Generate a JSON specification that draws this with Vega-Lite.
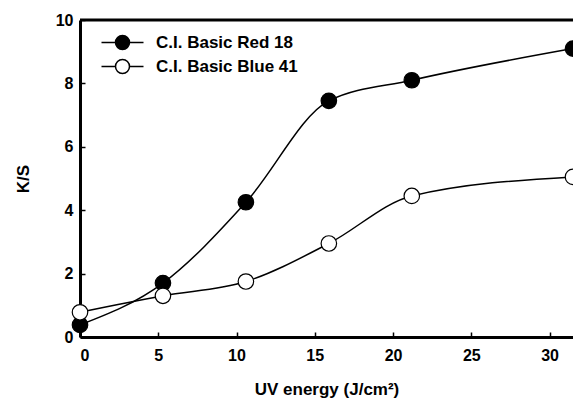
{
  "$schema": "https://vega.github.io/schema/vega-lite/v6.json",
  "width": 493,
  "height": 317,
  "autosize": "none",
  "padding": {"left": 80, "top": 20, "right": 0, "bottom": 63},
  "background": "white",
  "config": {
    "view": {"stroke": null},
    "font": "Liberation Sans",
    "axis": {
      "domainColor": "black",
      "domainWidth": 3,
      "tickColor": "black",
      "tickWidth": 1.5,
      "tickSize": -5,
      "labelFont": "Liberation Sans",
      "labelFontWeight": "bold",
      "labelFontSize": 16,
      "labelColor": "black",
      "titleFont": "Liberation Sans",
      "titleFontWeight": "bold",
      "titleFontSize": 17,
      "titleColor": "black",
      "grid": false
    },
    "legend": {
      "labelFont": "Liberation Sans",
      "labelFontWeight": "bold",
      "labelFontSize": 17,
      "labelColor": "black",
      "padding": 0
    }
  },
  "data": {
    "values": [
      {"energy": 0, "ks": 0.38, "dye": "C.I. Basic Red 18"},
      {"energy": 5.3, "ks": 1.7, "dye": "C.I. Basic Red 18"},
      {"energy": 10.6, "ks": 4.25, "dye": "C.I. Basic Red 18"},
      {"energy": 15.9, "ks": 7.45, "dye": "C.I. Basic Red 18"},
      {"energy": 21.2, "ks": 8.1, "dye": "C.I. Basic Red 18"},
      {"energy": 31.5, "ks": 9.1, "dye": "C.I. Basic Red 18"},
      {"energy": 0, "ks": 0.78, "dye": "C.I. Basic Blue 41"},
      {"energy": 5.3, "ks": 1.3, "dye": "C.I. Basic Blue 41"},
      {"energy": 10.6, "ks": 1.75, "dye": "C.I. Basic Blue 41"},
      {"energy": 15.9, "ks": 2.95, "dye": "C.I. Basic Blue 41"},
      {"energy": 21.2, "ks": 4.45, "dye": "C.I. Basic Blue 41"},
      {"energy": 31.5, "ks": 5.05, "dye": "C.I. Basic Blue 41"}
    ]
  },
  "encoding": {
    "x": {
      "field": "energy",
      "type": "quantitative",
      "scale": {"domain": [0, 31.5], "nice": false},
      "axis": {"values": [0, 5, 10, 15, 20, 25, 30], "title": "UV energy (J/cm²)", "labelPadding": 15, "titlePadding": 18}
    },
    "y": {
      "field": "ks",
      "type": "quantitative",
      "scale": {"domain": [0, 10], "nice": false},
      "axis": {"values": [0, 2, 4, 6, 8, 10], "title": "K/S", "labelPadding": 12, "titlePadding": 23}
    }
  },
  "layer": [
    {
      "mark": {"type": "rule", "color": "black", "strokeWidth": 3},
      "data": {"values": [{"top": 10}]},
      "encoding": {"y": {"field": "top", "type": "quantitative"}, "x": null}
    },
    {
      "mark": {"type": "line", "interpolate": "monotone", "color": "black", "strokeWidth": 1.5},
      "encoding": {"detail": {"field": "dye"}}
    },
    {
      "mark": {"type": "point", "shape": "circle", "size": 240, "stroke": "black", "strokeWidth": 1.2, "opacity": 1, "filled": false},
      "encoding": {
        "fill": {
          "field": "dye",
          "type": "nominal",
          "scale": {"domain": ["C.I. Basic Red 18", "C.I. Basic Blue 41"], "range": ["black", "white"]},
          "legend": {
            "title": null,
            "orient": "none",
            "legendX": 34,
            "legendY": 14,
            "symbolType": "M-3,0L-1,0M1,0L3,0M-1,0A1,1 0 1,0 1,0A1,1 0 1,0 -1,0",
            "symbolSize": 196,
            "symbolStrokeColor": "black",
            "symbolStrokeWidth": 1.5,
            "symbolOpacity": 1,
            "labelOffset": 25,
            "rowPadding": 3
          }
        }
      }
    }
  ]
}
